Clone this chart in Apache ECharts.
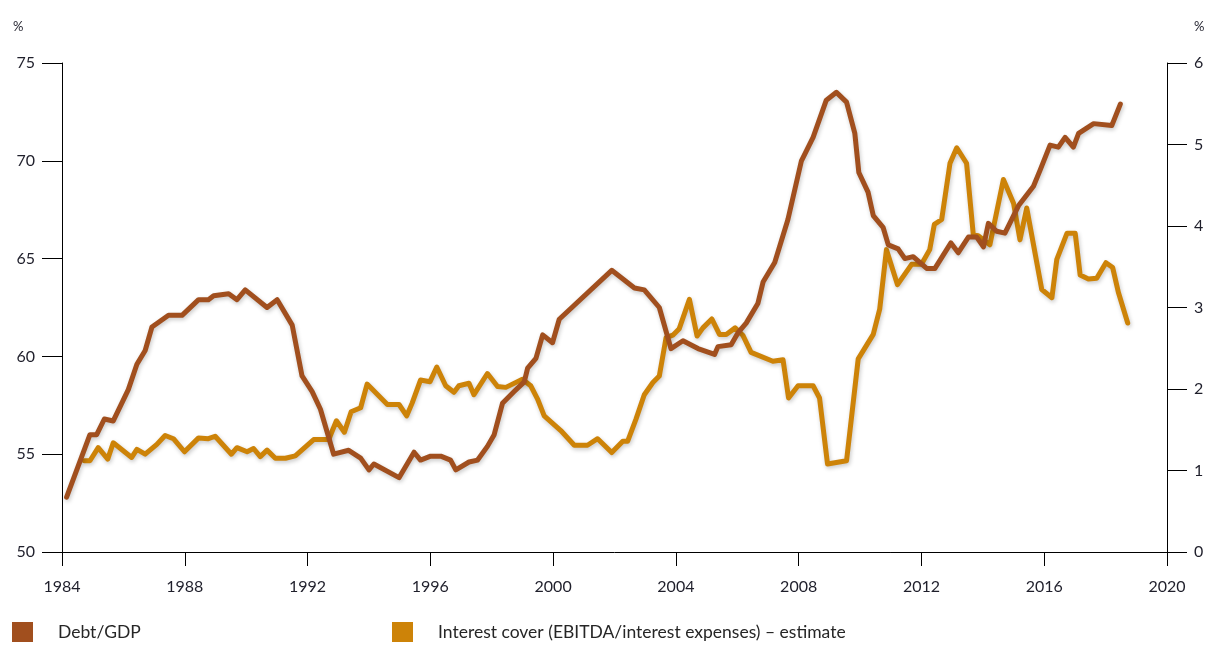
<!DOCTYPE html>
<html>
<head>
<meta charset="utf-8">
<script src="https://cdn.jsdelivr.net/npm/echarts@6/dist/echarts.min.js"></script>
<style>
  html, body { margin: 0; padding: 0; background: #fff; }
  #chart { width: 1229px; height: 652px; }
</style>
</head>
<body>
<div id="chart"></div>
<script>
const FONT = 'Lato, "Open Sans", sans-serif'
const TEXT = '#1f1f2b'

const seriesNames = ['Debt/GDP', 'Interest cover (EBITDA/interest expenses) – estimate']
const colors = ['#a14f1e', '#cd8308']

// Debt/GDP, % (left axis)
const debtYears = [1984.15, 1984.91, 1985.13, 1985.38, 1985.67, 1986.16, 1986.44, 1986.71, 1986.93, 1987.47,
  1987.91, 1988.45, 1988.77, 1988.94, 1989.43, 1989.70, 1989.97, 1990.68, 1991.01, 1991.50,
  1991.82, 1992.15, 1992.42, 1992.85, 1993.34, 1993.73, 1994.00, 1994.16, 1994.98, 1995.47,
  1995.68, 1996.01, 1996.34, 1996.66, 1996.83, 1997.26, 1997.54, 1997.86, 1998.08, 1998.35,
  1998.73, 1999.06, 1999.17, 1999.44, 1999.66, 1999.98, 2000.20, 2001.91, 2002.65, 2002.97,
  2003.46, 2003.84, 2004.23, 2004.72, 2005.26, 2005.37, 2005.80, 2006.02, 2006.29, 2006.67,
  2006.84, 2007.22, 2007.65, 2008.09, 2008.47, 2008.90, 2009.23, 2009.56, 2009.83, 2009.96,
  2010.26, 2010.43, 2010.75, 2010.92, 2011.24, 2011.46, 2011.73, 2012.17, 2012.44, 2012.96,
  2013.20, 2013.53, 2013.80, 2014.02, 2014.18, 2014.45, 2014.72, 2015.16, 2015.65, 2015.86,
  2016.19, 2016.46, 2016.68, 2016.95, 2017.12, 2017.61, 2018.20, 2018.48]
const debtValues = [52.8, 56.0, 56.0, 56.8, 56.7, 58.3, 59.6, 60.3, 61.5, 62.1,
  62.1, 62.9, 62.9, 63.1, 63.2, 62.9, 63.4, 62.5, 62.9, 61.6,
  59.0, 58.2, 57.3, 55.0, 55.2, 54.8, 54.2, 54.5, 53.8, 55.1,
  54.7, 54.9, 54.9, 54.7, 54.2, 54.6, 54.7, 55.4, 56.0, 57.6,
  58.2, 58.7, 59.4, 59.9, 61.1, 60.7, 61.9, 64.4, 63.5, 63.4,
  62.5, 60.4, 60.8, 60.4, 60.1, 60.5, 60.6, 61.2, 61.7, 62.7,
  63.8, 64.8, 67.0, 70.0, 71.2, 73.1, 73.5, 73.0, 71.4, 69.4,
  68.4, 67.2, 66.6, 65.7, 65.5, 65.0, 65.1, 64.5, 64.5, 65.8,
  65.3, 66.1, 66.1, 65.6, 66.8, 66.4, 66.3, 67.7, 68.7, 69.5,
  70.8, 70.7, 71.2, 70.7, 71.4, 71.9, 71.8, 72.9]

// Interest cover (right axis)
const coverYears = [1984.73, 1984.91, 1985.18, 1985.49, 1985.67, 1986.27, 1986.44, 1986.71, 1987.09, 1987.36,
  1987.63, 1987.99, 1988.45, 1988.77, 1988.99, 1989.52, 1989.70, 1990.03, 1990.24, 1990.46,
  1990.68, 1990.95, 1991.28, 1991.60, 1992.20, 1992.69, 1992.94, 1993.20, 1993.42, 1993.73,
  1993.94, 1994.60, 1994.98, 1995.23, 1995.41, 1995.68, 1995.99, 1996.21, 1996.50, 1996.77,
  1996.93, 1997.26, 1997.42, 1997.86, 1998.19, 1998.46, 1999.00, 1999.27, 1999.49, 1999.71,
  2000.25, 2000.69, 2001.12, 2001.45, 2001.91, 2002.27, 2002.43, 2002.70, 2002.97, 2003.25,
  2003.46, 2003.68, 2003.90, 2004.11, 2004.44, 2004.69, 2004.88, 2005.17, 2005.42, 2005.64,
  2005.93, 2006.18, 2006.45, 2007.16, 2007.49, 2007.67, 2007.98, 2008.47, 2008.68, 2008.94,
  2009.56, 2009.94, 2010.43, 2010.64, 2010.86, 2011.22, 2011.68, 2012.00, 2012.27, 2012.42,
  2012.66, 2012.93, 2013.15, 2013.47, 2013.69, 2013.85, 2014.23, 2014.67, 2015.00, 2015.21,
  2015.43, 2015.92, 2016.25, 2016.41, 2016.74, 2017.01, 2017.17, 2017.44, 2017.71, 2018.01,
  2018.23, 2018.42, 2018.72]
const coverValues = [1.12, 1.12, 1.28, 1.14, 1.34, 1.16, 1.26, 1.20, 1.32, 1.43,
  1.39, 1.23, 1.40, 1.39, 1.42, 1.20, 1.28, 1.23, 1.27, 1.17,
  1.25, 1.15, 1.15, 1.18, 1.38, 1.38, 1.61, 1.47, 1.72, 1.77,
  2.06, 1.81, 1.81, 1.67, 1.83, 2.11, 2.09, 2.27, 2.04, 1.96,
  2.04, 2.07, 1.93, 2.19, 2.03, 2.02, 2.12, 2.04, 1.88, 1.67,
  1.49, 1.31, 1.31, 1.39, 1.22, 1.36, 1.36, 1.63, 1.93, 2.08,
  2.16, 2.63, 2.66, 2.74, 3.10, 2.65, 2.75, 2.86, 2.67, 2.67,
  2.75, 2.66, 2.45, 2.34, 2.36, 1.89, 2.04, 2.04, 1.89, 1.08,
  1.12, 2.37, 2.67, 2.98, 3.71, 3.28, 3.53, 3.53, 3.71, 4.02,
  4.08, 4.77, 4.96, 4.77, 3.89, 3.88, 3.77, 4.57, 4.28, 3.83,
  4.22, 3.22, 3.12, 3.59, 3.91, 3.91, 3.40, 3.35, 3.36, 3.55,
  3.49, 3.18, 2.81]

const pairs = (xs, ys) => xs.map((x, i) => [x, ys[i]])

const chart = echarts.init(document.getElementById('chart'))

const axisText = { color: TEXT, fontFamily: FONT, fontSize: 16 }
const lineShadow = { shadowColor: 'rgba(0,0,0,0.22)', shadowBlur: 4, shadowOffsetX: 1, shadowOffsetY: 2 }
const black = { lineStyle: { color: '#000', width: 1 } }

const legendBase = {
  top: 622,
  padding: 0,
  icon: 'rect',
  itemWidth: 21,
  itemHeight: 20,
  selectedMode: false,
  textStyle: { color: '#262626', fontFamily: FONT, fontSize: 17.5, padding: [0, 0, 0, 20] },
}

chart.setOption({
  backgroundColor: '#fff',
  animation: false,
  color: colors,
  grid: { left: 62, right: 62, top: 63, bottom: 100 },
  graphic: [
    { type: 'text', left: 13, top: 20, style: { text: '%', fill: TEXT, font: '13px ' + FONT } },
    { type: 'text', left: 1194, top: 20, style: { text: '%', fill: TEXT, font: '13px ' + FONT } },
  ],
  legend: [
    Object.assign({}, legendBase, { left: 12, data: [seriesNames[0]] }),
    Object.assign({}, legendBase, { left: 392, data: [seriesNames[1]] }),
  ],
  xAxis: {
    type: 'value',
    min: 1984,
    max: 2020,
    interval: 4,
    axisLine: black,
    axisTick: Object.assign({ length: 14 }, black),
    axisLabel: Object.assign({ margin: 27, formatter: (v) => String(v) }, axisText),
    splitLine: { show: false },
  },
  yAxis: [
    {
      type: 'value',
      min: 50,
      max: 75,
      interval: 5,
      axisLine: Object.assign({ show: true }, black),
      axisTick: Object.assign({ show: true, length: 20 }, black),
      axisLabel: Object.assign({ margin: 27 }, axisText),
      splitLine: { show: false },
    },
    {
      type: 'value',
      min: 0,
      max: 6,
      interval: 1,
      position: 'right',
      axisLine: Object.assign({ show: true }, black),
      axisTick: Object.assign({ show: true, length: 20 }, black),
      axisLabel: Object.assign({ margin: 27 }, axisText),
      splitLine: { show: false },
    },
  ],
  series: [
    {
      name: seriesNames[0],
      type: 'line',
      yAxisIndex: 0,
      showSymbol: false,
      z: 3,
      data: pairs(debtYears, debtValues),
      lineStyle: Object.assign({ width: 5, color: colors[0], cap: 'round', join: 'round' }, lineShadow),
    },
    {
      name: seriesNames[1],
      type: 'line',
      yAxisIndex: 1,
      showSymbol: false,
      z: 2,
      data: pairs(coverYears, coverValues),
      lineStyle: Object.assign({ width: 5, color: colors[1], cap: 'round', join: 'round' }, lineShadow),
    },
  ],
})
</script>
</body>
</html>
